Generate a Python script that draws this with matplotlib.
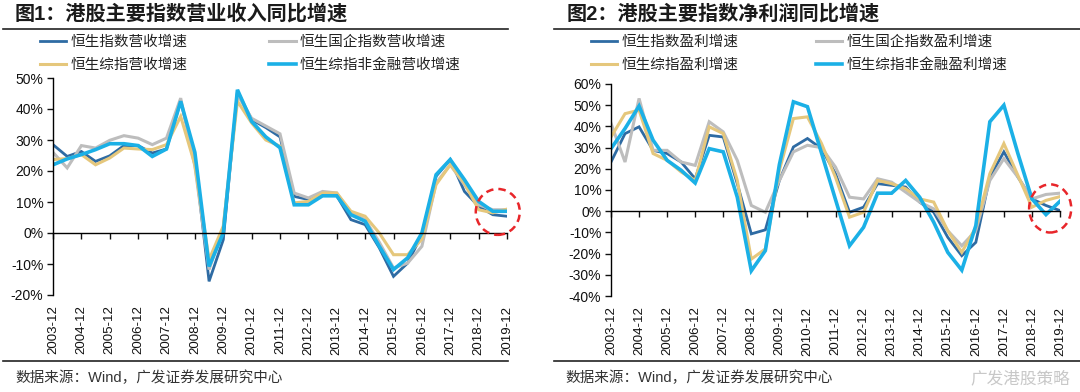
import numpy as np
import matplotlib
matplotlib.use('Agg')
import matplotlib.pyplot as plt
from matplotlib.patches import Ellipse
from matplotlib.lines import Line2D

plt.rcParams['font.family'] = ['Liberation Sans', 'Noto Sans CJK SC', 'DejaVu Sans']

# 半年度数据：2003-12 到 2019-12，共33期
year_labels = ['2003-12', '2004-12', '2005-12', '2006-12', '2007-12', '2008-12',
               '2009-12', '2010-12', '2011-12', '2012-12', '2013-12', '2014-12',
               '2015-12', '2016-12', '2017-12', '2018-12', '2019-12']

# 图1 营收同比增速 (%)
rev_hsi = [28.5, 24.7, 26.3, 23.1, 24.9, 28.2, 28.2, 25.8, 27.1, 42.5, 24.2, -15.6, -2.2,
           45.7, 36.6, 34.0, 31.0, 11.8, 10.8, 12.4, 12.0, 4.3, 2.7, -4.8, -14.0, -9.7,
           -0.5, 18.3, 23.7, 13.4, 8.6, 5.9, 5.4]
rev_hscei = [26.0, 21.0, 28.2, 27.4, 29.9, 31.4, 30.6, 28.5, 30.6, 43.5, 21.5, -11.8, 1.6,
             44.6, 37.0, 34.5, 32.0, 12.9, 11.3, 13.4, 12.9, 6.5, 4.3, -3.0, -11.3, -9.7,
             -4.3, 16.1, 22.0, 15.6, 9.1, 7.5, 7.5]
rev_hsci = [23.7, 24.0, 25.3, 22.0, 24.2, 27.4, 27.1, 26.9, 28.5, 37.6, 22.0, -8.6, 2.2,
            42.5, 35.5, 30.0, 28.0, 9.7, 10.2, 12.9, 12.9, 7.0, 5.4, 0.0, -7.0, -7.0,
            -2.0, 15.6, 22.0, 16.1, 7.5, 6.5, 7.7]
rev_nonfin = [22.0, 23.9, 25.3, 26.9, 28.8, 28.8, 28.2, 24.7, 27.1, 42.5, 26.0, -10.8, 0.0,
              46.2, 36.0, 31.0, 27.5, 9.1, 9.1, 12.0, 12.0, 5.9, 3.8, -4.3, -11.8, -8.0,
              0.0, 18.8, 23.7, 17.2, 10.2, 7.0, 7.0]

# 图2 净利润同比增速 (%)
prof_hsi = [23.2, 36.6, 39.8, 28.7, 27.2, 23.2, 15.3, 35.8, 35.0, 13.0, -10.7, -8.8, 14.5,
            30.3, 34.3, 29.5, 17.7, -0.5, 1.9, 13.0, 12.2, 11.4, 4.3, -0.5, -12.3, -21.0,
            -14.7, 16.1, 28.0, 16.1, 5.8, 2.7, 0.3]
prof_hscei = [41.4, 23.2, 53.2, 28.7, 28.7, 23.2, 21.6, 42.2, 37.4, 24.0, 2.7, -0.5, 14.5,
              28.0, 31.1, 30.0, 20.8, 6.6, 5.8, 15.3, 13.7, 9.0, 4.3, 1.1, -9.2, -16.3,
              -9.2, 14.5, 24.8, 16.1, 5.8, 7.9, 8.5]
prof_hsci = [35.0, 46.0, 47.7, 27.2, 24.0, 18.5, 14.5, 39.8, 36.6, 14.5, -22.6, -17.8, 19.3,
             43.7, 44.5, 32.0, 16.0, -2.8, -0.5, 14.5, 13.0, 10.6, 5.8, 4.3, -9.2, -19.4,
             -7.6, 17.7, 31.9, 16.9, 1.9, 5.1, 6.9]
prof_nonfin = [29.5, 39.0, 49.6, 33.5, 24.0, 19.3, 13.3, 29.5, 28.0, 6.6, -28.1, -18.6, 22.0,
               51.6, 49.3, 27.5, 5.5, -16.3, -7.6, 8.5, 8.5, 14.5, 6.6, -5.2, -19.4, -27.8,
               -6.8, 42.2, 50.0, 27.2, 5.8, -1.6, 4.7]

C_DB = '#2E6BA3'
C_GRAY = '#BDBDBD'
C_YEL = '#E5C77C'
C_CYAN = '#1BB0E6'

W, H = 1080, 392
fig = plt.figure(figsize=(10.8, 3.92), dpi=100)


def draw_panel(rect, series, names, ylim, leg_xy, colsp, circle):
    ax = fig.add_axes(rect)
    x = np.arange(len(series[0]))
    colors = [C_DB, C_GRAY, C_YEL, C_CYAN]
    widths = [2.0, 2.2, 2.2, 2.6]
    lines = []
    for s, c, lw, n in zip(series, colors, widths, names):
        ln, = ax.plot(x, s, color=c, lw=lw, label=n, solid_joinstyle='miter')
        lines.append(ln)
    ax.set_xlim(0, len(x) - 1)
    ax.set_ylim(*ylim)
    ax.set_yticks(np.arange(ylim[0], ylim[1] + 1, 10))
    ax.yaxis.set_major_formatter(plt.FuncFormatter(lambda v, p: f'{v:.0f}%'))
    ax.set_xticks(np.arange(0, len(x), 2))
    ax.set_xticklabels(year_labels)
    for sp in ['top', 'right']:
        ax.spines[sp].set_visible(False)
    ax.spines['bottom'].set_position(('data', 0))
    ax.spines['left'].set_linewidth(1.0)
    ax.spines['bottom'].set_linewidth(1.0)
    # x轴标签放到图底部
    ax_h = rect[3] * H
    zero_px = (0 - ylim[0]) / (ylim[1] - ylim[0]) * ax_h
    pad = (zero_px + 5) * 72 / 100
    ax.tick_params(axis='x', direction='out', length=4, width=1, labelsize=9.5,
                   labelrotation=90, pad=pad, colors='#111111')
    ax.tick_params(axis='y', direction='out', length=4, width=1, labelsize=10,
                   pad=3, colors='#111111')

    # 图例 两行两列
    hs = [lines[0], lines[2], lines[1], lines[3]]
    fig.legend(hs, [h.get_label() for h in hs], ncol=2, loc='upper left',
               bbox_to_anchor=leg_xy, bbox_transform=fig.transFigure, frameon=False,
               fontsize=10.5, handlelength=1.8, handletextpad=0.3, columnspacing=colsp,
               labelspacing=0.6, borderpad=0, borderaxespad=0, labelcolor='#222222')

    # 红色虚线圈
    cx, cy, cw, ch = circle
    ax.add_patch(Ellipse((cx, cy), cw, ch, fill=False, ec='#E8262A', lw=1.8,
                         ls=(0, (3, 2)), clip_on=False, zorder=5))
    return ax


ax1 = draw_panel([53 / W, 1 - 295 / H, 454 / W, 217 / H],
                 [rev_hsi, rev_hscei, rev_hsci, rev_nonfin],
                 ['恒生指数营收增速', '恒生国企指数营收增速', '恒生综指营收增速', '恒生综指非金融营收增速'],
                 (-20, 50), (40 / W, 1 - 35 / H), 5.6, (31.35, 6.8, 3.1, 14.8))
ax2 = draw_panel([611 / W, 1 - 296 / H, 449 / W, 212 / H],
                 [prof_hsi, prof_hscei, prof_hsci, prof_nonfin],
                 ['恒生指数盈利增速', '恒生国企指数盈利增速', '恒生综指盈利增速', '恒生综指非金融盈利增速'],
                 (-40, 60), (591 / W, 1 - 35 / H), 5.3, (31.3, 1.3, 3.0, 22.7))

# 标题
fig.text(15 / W, 1 - 14 / H, '图1：港股主要指数营业收入同比增速', fontsize=14.5, fontweight='bold',
         color='#1a1a1a', va='center', ha='left')
fig.text(567 / W, 1 - 14 / H, '图2：港股主要指数净利润同比增速', fontsize=14.5, fontweight='bold',
         color='#1a1a1a', va='center', ha='left')

# 分隔线
for x0, x1 in [(3, 508), (554, 1080)]:
    for yy in [29, 361]:
        fig.add_artist(Line2D([x0 / W, x1 / W], [1 - yy / H, 1 - yy / H], color='#222222', lw=1.2))

# 资料来源
fig.text(15 / W, 1 - 378 / H, '数据来源：Wind，广发证券发展研究中心', fontsize=10.5,
         color='#333333', va='center', ha='left')
fig.text(565 / W, 1 - 378 / H, '数据来源：Wind，广发证券发展研究中心', fontsize=10.5,
         color='#333333', va='center', ha='left')

# 水印（放在来源右侧，避免与坐标标签重叠）
fig.text(1070 / W, 1 - 378 / H, '广发港股策略', fontsize=12, color='#c8c8c8',
         va='center', ha='right')

fig.savefig('out.png', dpi=100)
